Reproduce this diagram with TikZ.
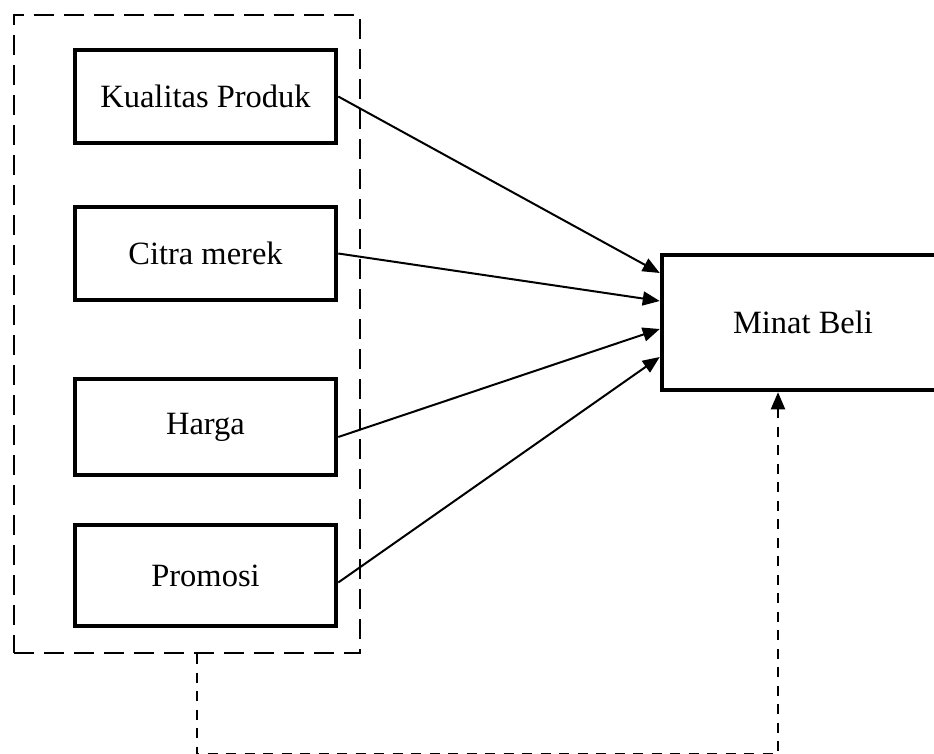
\documentclass[tikz,border=0pt]{standalone}
\usepackage{fontspec}
\setmainfont{Liberation Serif}
\usetikzlibrary{arrows.meta}
\begin{document}
\begin{tikzpicture}[x=1pt,y=-1pt,
  vbox/.style={draw,line width=4.5pt,inner sep=0pt,font=\fontsize{32.5}{38}\selectfont},
  grpbox/.style={draw,line width=2pt,dash pattern=on 20pt off 10pt,inner sep=0pt},
  conn/.style={line width=2pt,-{Triangle[length=17pt,width=14pt]}},
  fb/.style={line width=2pt,dash pattern=on 10pt off 8.5pt,-{Triangle[length=17pt,width=14pt]}}]
\useasboundingbox (0,0) rectangle (934,754);
\node[grpbox,minimum width=346pt,minimum height=638pt] (grp) at (187,334) {};
\node[vbox,minimum width=261pt,minimum height=93pt] (k) at (205.5,96.5) {Kualitas Produk};
\node[vbox,minimum width=261pt,minimum height=93pt] (c) at (205.5,253.5) {Citra merek};
\node[vbox,minimum width=261pt,minimum height=96pt] (h) at (205.5,427) {Harga};
\node[vbox,minimum width=261pt,minimum height=101pt] (p) at (205.5,575.5) {Promosi};
\node[vbox,minimum width=282pt,minimum height=135pt] (m) at (803,322.5) {Minat Beli};
\draw[conn] (k.east) -- ([yshift=49.5pt]m.west);
\draw[conn] (c.east) -- ([yshift=21.5pt]m.west);
\draw[conn] ([yshift=-10pt]h.east) -- ([yshift=-6.5pt]m.west);
\draw[conn] ([yshift=-7pt]p.east) -- ([yshift=-34.5pt]m.west);
\coordinate (fc) at (778,754.3);
\draw[fb] ([xshift=10pt]grp.south) |- (fc) -- ([xshift=-25pt]m.south);
\end{tikzpicture}
\end{document}
